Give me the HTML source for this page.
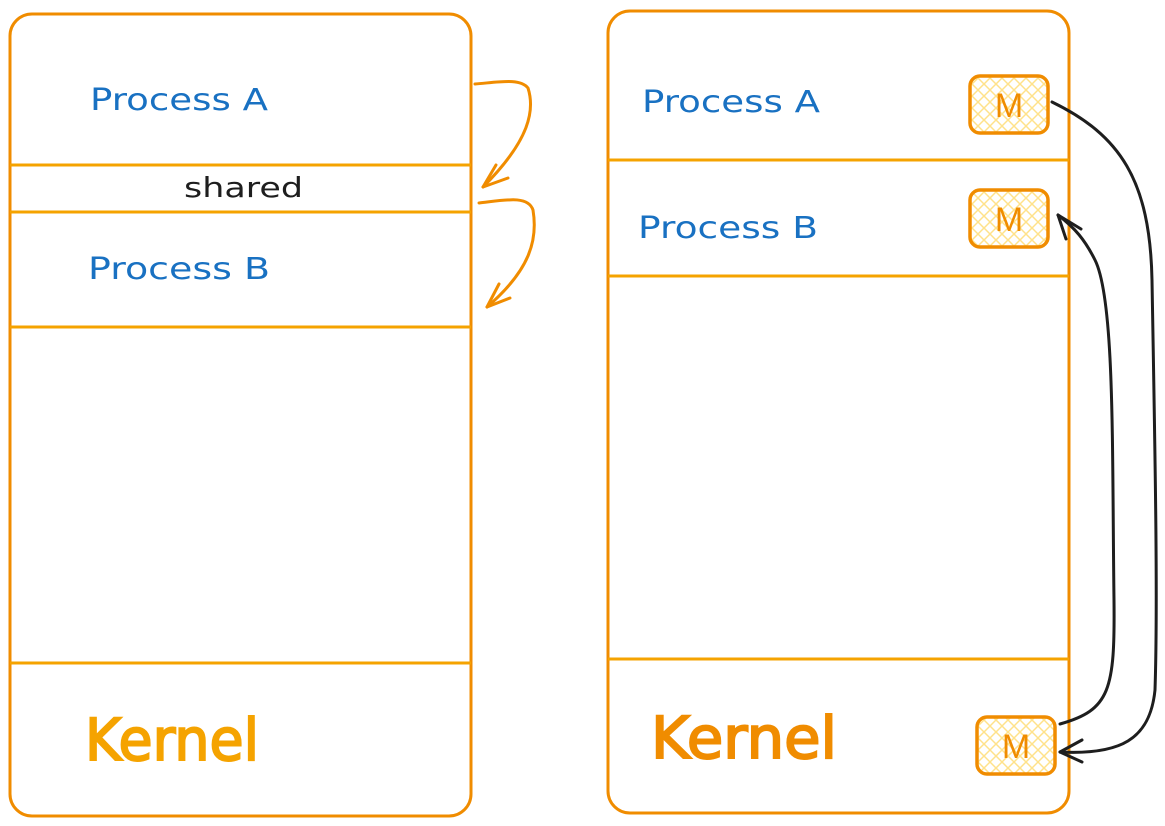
<!DOCTYPE html>
<html><head><meta charset="utf-8"><style>
html,body{margin:0;padding:0;background:#fff;width:1165px;height:826px;overflow:hidden}
svg{display:block}
.t{font-family:"Comic Sans MS","DejaVu Sans","Liberation Sans",sans-serif}
</style></head><body>
<svg width="1165" height="826" viewBox="0 0 1165 826" xmlns="http://www.w3.org/2000/svg">
<defs>
<pattern id="hx" width="12" height="12" patternUnits="userSpaceOnUse">
<path d="M0 0L12 12M12 0L0 12" stroke="#ffe28a" stroke-width="1.5"/>
</pattern>
</defs>
<!-- left -->
<rect x="10" y="14" width="461" height="802" rx="22" fill="none" stroke="#f08c00" stroke-width="3"/>
<g stroke="#f5a300" stroke-width="3">
<line x1="10" y1="165" x2="471" y2="165"/>
<line x1="10" y1="212" x2="471" y2="212"/>
<line x1="10" y1="327" x2="471" y2="327"/>
<line x1="10" y1="663" x2="471" y2="663"/>
</g>
<text class="t" x="90" y="110" font-size="30" fill="#1971c2" textLength="178" lengthAdjust="spacingAndGlyphs">Process A</text>
<text class="t" x="184" y="197" font-size="28" fill="#1e1e1e" textLength="119" lengthAdjust="spacingAndGlyphs">shared</text>
<text class="t" x="88" y="279" font-size="30" fill="#1971c2" textLength="182" lengthAdjust="spacingAndGlyphs">Process B</text>
<text class="t" x="85" y="760" font-size="58" fill="#f5a300" stroke="#f5a300" stroke-width="2" textLength="174" lengthAdjust="spacingAndGlyphs">Kernel</text>
<g fill="none" stroke="#f08c00" stroke-width="3" stroke-linecap="round" stroke-linejoin="round">
<path d="M475 84 C500 82 520 78 528 88 C535 110 530 140 483 187"/>
<path d="M483 187 L496 165 M483 187 L508 178"/>
<path d="M479 203 C505 200 528 195 533 210 C538 240 530 270 487 307"/>
<path d="M487 307 L499 284 M487 307 L510 298"/>
</g>
<!-- right -->
<rect x="608" y="11" width="461" height="802" rx="22" fill="none" stroke="#f08c00" stroke-width="3"/>
<g stroke="#f5a300" stroke-width="3">
<line x1="608" y1="160" x2="1069" y2="160"/>
<line x1="608" y1="276" x2="1069" y2="276"/>
<line x1="608" y1="659" x2="1069" y2="659"/>
</g>
<text class="t" x="642" y="112" font-size="30" fill="#1971c2" textLength="178" lengthAdjust="spacingAndGlyphs">Process A</text>
<text class="t" x="638" y="238" font-size="30" fill="#1971c2" textLength="180" lengthAdjust="spacingAndGlyphs">Process B</text>
<text class="t" x="651" y="758" font-size="58" fill="#f08c00" stroke="#f08c00" stroke-width="2" textLength="186" lengthAdjust="spacingAndGlyphs">Kernel</text>
<g stroke="#f08c00" stroke-width="3.5">
<rect x="970" y="76" width="78" height="57" rx="10" fill="url(#hx)"/>
<rect x="970" y="190" width="78" height="57" rx="10" fill="url(#hx)"/>
<rect x="977" y="717" width="78" height="57" rx="10" fill="url(#hx)"/>
</g>
<g font-family="Liberation Sans,sans-serif" font-size="34" fill="#f08c00" text-anchor="middle">
<text x="1009" y="117">M</text>
<text x="1009" y="231">M</text>
<text x="1016" y="758">M</text>
</g>
<g fill="none" stroke="#1e1e1e" stroke-width="3" stroke-linecap="round" stroke-linejoin="round">
<path d="M1052 102 C1120 135 1150 180 1152 280 C1155 450 1158 600 1155 690 C1150 740 1120 755 1060 752"/>
<path d="M1060 752 L1082 740 M1060 752 L1082 762"/>
<path d="M1060 724 C1110 710 1115 690 1114 600 C1112 450 1115 300 1095 260 C1085 240 1075 228 1058 215"/>
<path d="M1058 215 L1066 239 M1058 215 L1081 229"/>
</g>
</svg>
</body></html>
